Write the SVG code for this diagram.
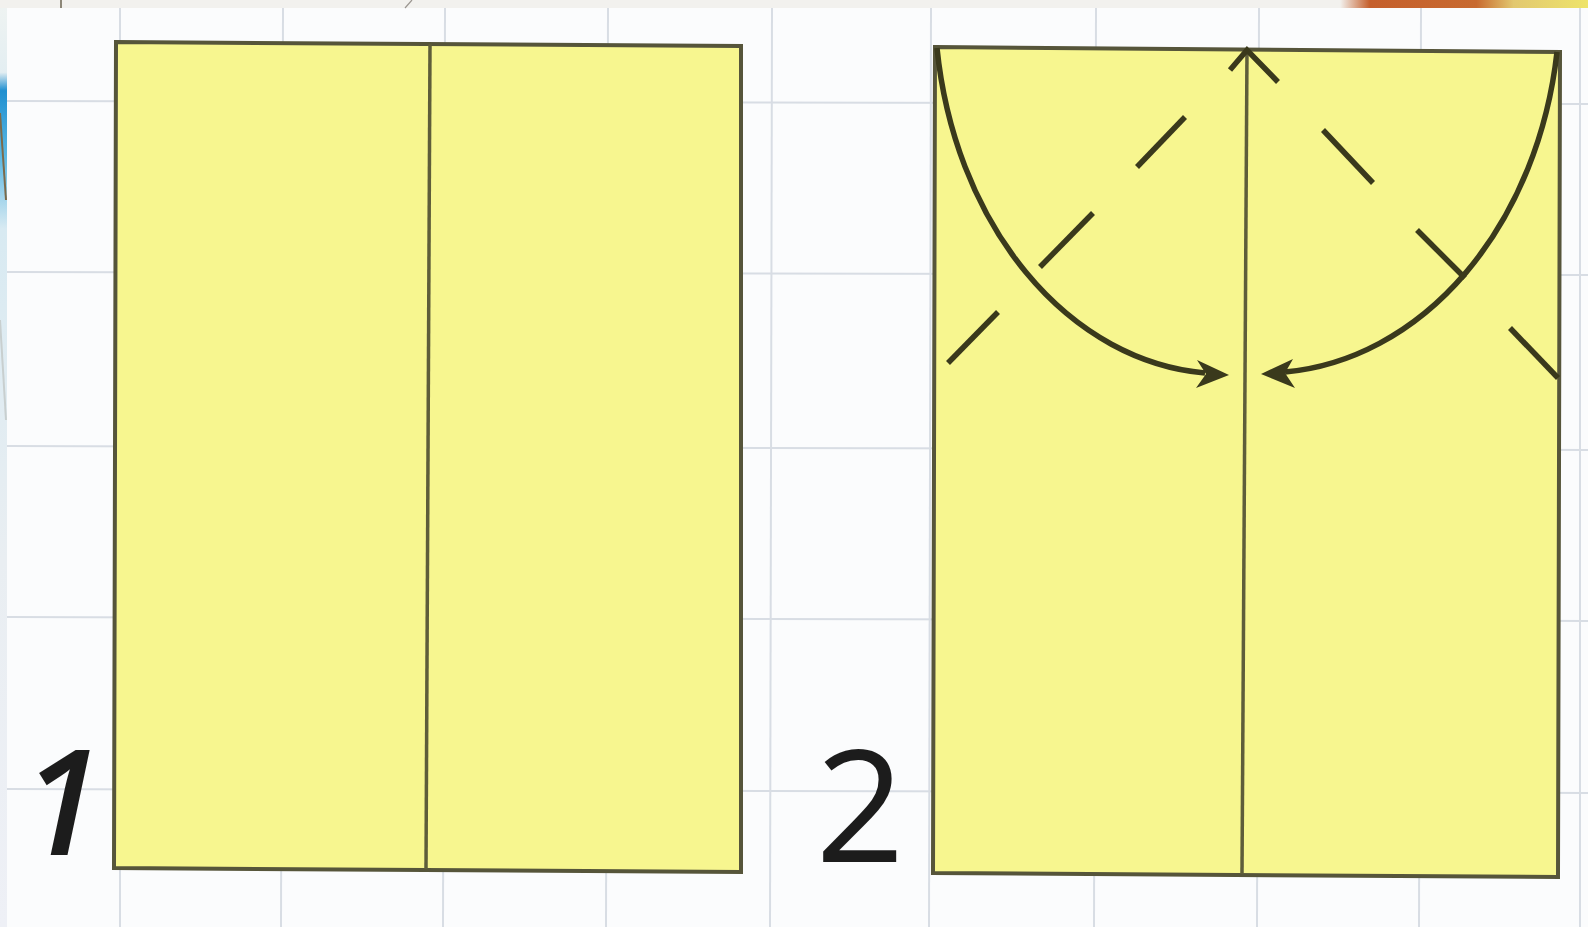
<svg xmlns="http://www.w3.org/2000/svg" width="1588" height="927" viewBox="0 0 1588 927">
  <defs>
    <linearGradient id="leftStrip" x1="0" y1="0" x2="0" y2="1">
      <stop offset="0" stop-color="#eef3f2"/>
      <stop offset="0.07" stop-color="#e3eef2"/>
      <stop offset="0.09" stop-color="#1f8fd0"/>
      <stop offset="0.16" stop-color="#5ab7e2"/>
      <stop offset="0.24" stop-color="#d8eaf2"/>
      <stop offset="0.6" stop-color="#e9eef2"/>
      <stop offset="1" stop-color="#eef0f6"/>
    </linearGradient>
    <linearGradient id="topRight" x1="0" y1="0" x2="1" y2="0">
      <stop offset="0" stop-color="#f2f1ee"/>
      <stop offset="0.12" stop-color="#c55f2c"/>
      <stop offset="0.55" stop-color="#c86a30"/>
      <stop offset="0.7" stop-color="#e2c870"/>
      <stop offset="1" stop-color="#eee46a"/>
    </linearGradient>
  </defs>
  <style>
    .grid { stroke: #d8dde4; stroke-width: 2; fill: none; }
    .sheet { fill: #f7f68f; stroke: #56553a; stroke-width: 4; stroke-linejoin: miter; }
    .crease { stroke: #5e5d3a; stroke-width: 3.5; fill: none; }
    .ink { stroke: #3a391c; stroke-width: 5.5; fill: none; stroke-linecap: butt; }
    .head { fill: #3a391c; }
    .num { font-family: "Open Sans", "Liberation Sans", sans-serif; fill: #1c1c1c; }
  </style>

  <!-- page background -->
  <rect x="0" y="0" width="1588" height="927" fill="#fbfcfd"/>
  <rect x="0" y="0" width="1588" height="8" fill="#f2f1ee"/>
  <rect x="1340" y="0" width="248" height="8" fill="url(#topRight)"/>
  <line x1="61" y1="0" x2="61" y2="8" stroke="#6b6350" stroke-width="1.5"/>
  <line x1="412" y1="0" x2="405" y2="8" stroke="#9a9590" stroke-width="1.2"/>
  <rect x="0" y="8" width="7" height="919" fill="url(#leftStrip)"/>
  <line x1="0" y1="113" x2="6" y2="200" stroke="#7c6a4a" stroke-width="2"/>
  <line x1="0" y1="320" x2="6" y2="420" stroke="#c8cfcf" stroke-width="2"/>

  <!-- grid -->
  <g id="grid">
    <line class="grid" x1="120" y1="8" x2="120" y2="927"/>
    <line class="grid" x1="283" y1="8" x2="281" y2="927"/>
    <line class="grid" x1="445" y1="8" x2="443" y2="927"/>
    <line class="grid" x1="608" y1="8" x2="606" y2="927"/>
    <line class="grid" x1="772" y1="8" x2="770" y2="927" stroke="#d0d8e6"/>
    <line class="grid" x1="931" y1="8" x2="929" y2="927"/>
    <line class="grid" x1="1096" y1="8" x2="1094" y2="927"/>
    <line class="grid" x1="1259" y1="8" x2="1257" y2="927"/>
    <line class="grid" x1="1421" y1="8" x2="1419" y2="927"/>
    <line class="grid" x1="1580" y1="8" x2="1580" y2="927"/>
    <line class="grid" x1="7" y1="101" x2="1588" y2="104"/>
    <line class="grid" x1="7" y1="272" x2="1588" y2="275"/>
    <line class="grid" x1="7" y1="446" x2="1588" y2="450"/>
    <line class="grid" x1="7" y1="617" x2="1588" y2="621"/>
    <line class="grid" x1="7" y1="789" x2="1588" y2="793"/>
  </g>

  <!-- step 1 -->
  <g id="step1">
    <polygon class="sheet" points="116,42 741,46 741,872 114,868"/>
    <line class="crease" x1="430" y1="44" x2="426" y2="869"/>
    <text class="num" x="22" y="855" font-size="146" font-style="italic" font-weight="600">1</text>
  </g>

  <!-- step 2 -->
  <g id="step2">
    <polygon class="sheet" points="935,47 1560,52 1558,877 933,873"/>
    <line class="crease" x1="1247" y1="49" x2="1242" y2="874" stroke-width="2.8"/>
    <text class="num" x="860" y="862" font-size="156" text-anchor="middle">2</text>
  </g>

  <!-- fold marks -->
  <g id="connectors">
    <!-- unfold arrow at top of crease -->
    <polyline class="ink" points="1230,70 1247,50 1278,82" stroke-width="4.5"/>
    <!-- dashed valley folds -->
    <line class="ink" x1="948" y1="363" x2="998" y2="312"/>
    <line class="ink" x1="1040" y1="267" x2="1093" y2="213"/>
    <line class="ink" x1="1137" y1="167" x2="1185" y2="117"/>
    <line class="ink" x1="1323" y1="130" x2="1373" y2="183"/>
    <line class="ink" x1="1417" y1="230" x2="1465" y2="278"/>
    <line class="ink" x1="1510" y1="328" x2="1558" y2="378"/>
    <!-- curved fold arrows -->
    <path class="ink" d="M937,48 A290,374 0 0 0 1205,373"/>
    <polygon class="head" points="1229,375 1197,360 1206,374 1196,388"/>
    <path class="ink" d="M1557,52 A296,373 0 0 1 1285,372"/>
    <polygon class="head" points="1261,374 1293,359 1285,373 1295,388"/>
  </g>
</svg>
